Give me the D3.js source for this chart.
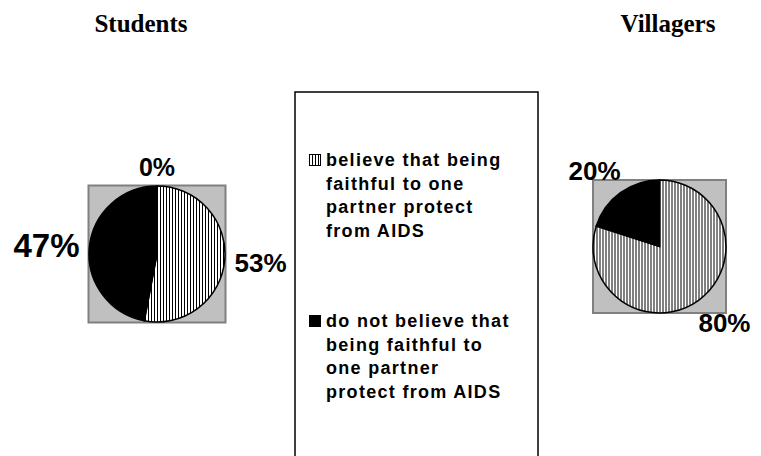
<!DOCTYPE html>
<html>
<head>
<meta charset="utf-8">
<script src="https://cdn.jsdelivr.net/npm/d3@7"></script>
<style>
  body { margin: 0; background: #fff; }
  svg { display: block; }
</style>
</head>
<body>
<svg id="chart"></svg>
<script>
// data
const groups = ['Students', 'Villagers']
const categories = [
    'believe that being faithful to one partner protect from AIDS',
    'do not believe that being faithful to one partner protect from AIDS',
    'no answer'
]
const studentsValues = [53, 47, 0]
const villagersValues = [80, 20]
// legend text as it wraps in the box
const legendLines = [
    ['believe that being', 'faithful to one', 'partner protect', 'from AIDS'],
    ['do not believe that', 'being faithful to', 'one partner', 'protect from AIDS']
]

let opts = {
    width: 761,
    height: 456,
    plotFill: '#c0c0c0',
    plotStroke: '#808080',
    labelFont: '"Liberation Sans", Arial, sans-serif',
    titleFont: '"Liberation Serif", "Times New Roman", serif',
}

// per pie layout (centre, radius, label gap, label sizes)
let pies = [
    { title: groups[0], values: studentsValues, cx: 157, cy: 254, r: 68, plot: 137,
      gap: 10, sizes: [26, 33, 25], titleX: 141 },
    { title: groups[1], values: villagersValues, cx: 659.5, cy: 246.5, r: 66.5, plot: 133,
      gap: 18, sizes: [26, 26], titleX: 668 },
]

let svg = d3.select('#chart')
    .attr('width', opts.width)
    .attr('height', opts.height)

// vertical stripe pattern
let defs = svg.append('defs')
let pat = defs.append('pattern')
    .attr('id', 'stripes')
    .attr('patternUnits', 'userSpaceOnUse')
    .attr('width', 3)
    .attr('height', 10)
pat.append('rect').attr('width', 3).attr('height', 10).attr('fill', 'white')
pat.append('rect').attr('x', 0).attr('width', 1).attr('height', 10).attr('fill', 'black')

let fills = ['url(#stripes)', 'black', 'white']

let pie = d3.pie().sort(null).value(d => d).startAngle(0).endAngle(2 * Math.PI)

pies.forEach(p => {
    let g = svg.append('g')

    g.append('text')
        .attr('x', p.titleX)
        .attr('y', 32)
        .attr('text-anchor', 'middle')
        .attr('font-family', opts.titleFont)
        .attr('font-weight', 'bold')
        .attr('font-size', 25)
        .text(p.title)

    g.append('rect')
        .attr('x', p.cx - p.plot / 2)
        .attr('y', p.cy - p.plot / 2)
        .attr('width', p.plot)
        .attr('height', p.plot)
        .attr('fill', opts.plotFill)
        .attr('stroke', opts.plotStroke)
        .attr('stroke-width', 2)

    let arc = d3.arc().innerRadius(0).outerRadius(p.r)
    let slices = pie(p.values)

    g.selectAll('path.slice')
        .data(slices.filter(d => d.value > 0))
        .enter().append('path')
        .attr('class', 'slice')
        .attr('transform', `translate(${p.cx},${p.cy})`)
        .attr('d', arc)
        .attr('fill', d => fills[d.index])
        .attr('stroke', 'black')
        .attr('stroke-width', 1.5)

    // labels pushed outward from the rim by half their box
    slices.forEach((d, i) => {
        let a = (d.startAngle + d.endAngle) / 2
        let s = Math.sin(a), c = Math.cos(a)
        let fs = p.sizes[i]
        let t = g.append('text')
            .attr('font-family', opts.labelFont)
            .attr('font-weight', 'bold')
            .attr('font-size', fs)
            .attr('text-anchor', 'middle')
            .text(d.value + '%')
        let w = t.node().getComputedTextLength()
        let h = fs * 0.72
        let R = p.r + p.gap
        let x = p.cx + R * s + s * w / 2
        let y = p.cy - R * c - c * h / 2
        t.attr('x', x).attr('y', y + h / 2)
    })
})

// legend
let lg = svg.append('g')
lg.append('rect')
    .attr('x', 295)
    .attr('y', 92)
    .attr('width', 243)
    .attr('height', 400)
    .attr('fill', 'white')
    .attr('stroke', 'black')
    .attr('stroke-width', 1.5)

let lineH = 23.5
let groupY = [166, 327]
legendLines.forEach((lines, k) => {
    lg.append('rect')
        .attr('x', 309.5)
        .attr('y', groupY[k] - 11.5)
        .attr('width', 11)
        .attr('height', 11)
        .attr('fill', fills[k])
        .attr('stroke', 'black')
        .attr('stroke-width', 1)
    lg.append('text')
        .attr('font-family', opts.labelFont)
        .attr('font-weight', 'bold')
        .attr('font-size', 18)
        .attr('letter-spacing', 1.3)
        .selectAll('tspan')
        .data(lines)
        .enter().append('tspan')
        .attr('x', 326)
        .attr('y', (d, i) => groupY[k] + i * lineH)
        .text(d => d)
})
</script>
</body>
</html>
